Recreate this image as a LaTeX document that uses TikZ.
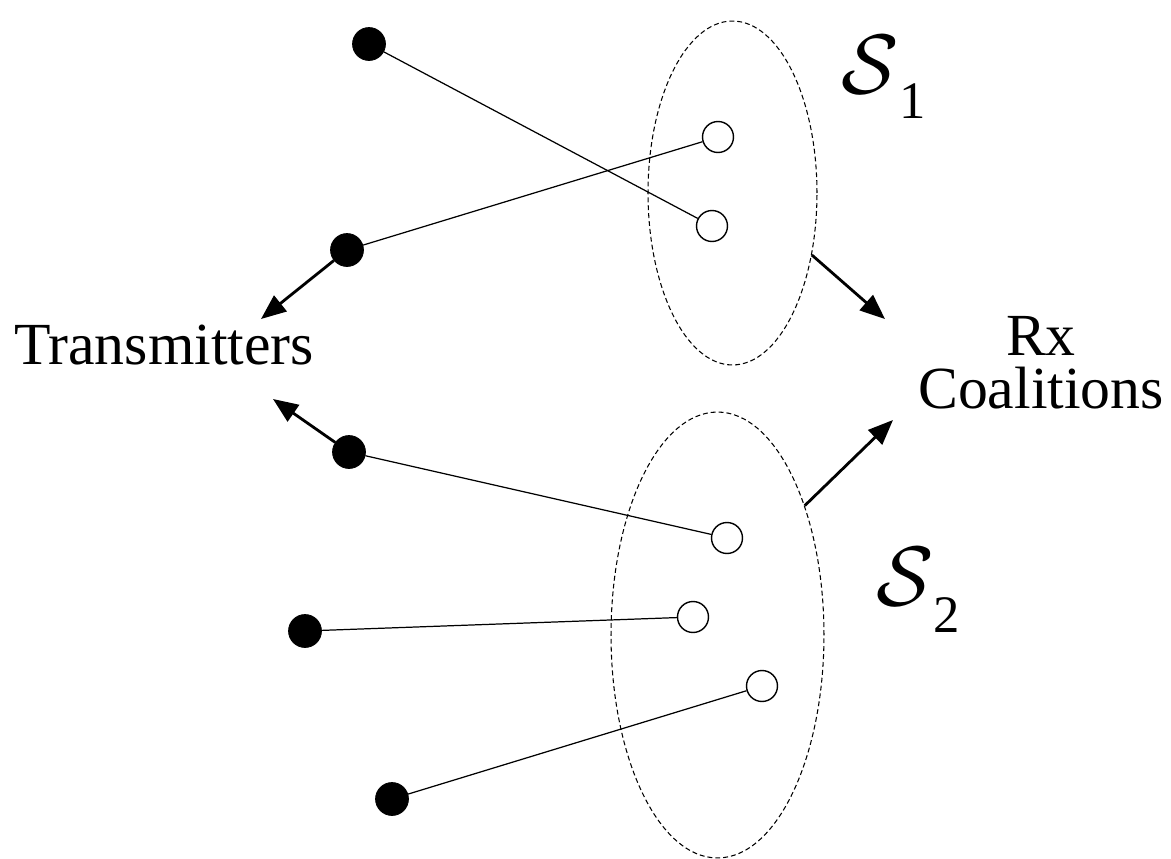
\documentclass[tikz,border=0pt]{standalone}
\usepackage{fontspec}
\setmainfont{Liberation Serif}
\usetikzlibrary{shapes.geometric,arrows.meta}
\begin{document}
\begin{tikzpicture}[x=0.02cm,y=-0.02cm,
  tx/.style={circle,fill=black,draw=black,minimum size=0.66cm,inner sep=0},
  rxnode/.style={circle,fill=white,draw=black,line width=0.8pt,minimum size=0.62cm,inner sep=0},
  link/.style={line width=0.7pt},
  coal/.style={ellipse,draw,dash pattern=on 2.8pt off 1.7pt,line width=0.6pt,inner sep=0},
  pointer/.style={line width=1.6pt,-{Triangle[length=0.5cm,width=0.4cm]}},
  lbl/.style={font=\fontsize{34}{30}\selectfont,inner sep=0},
  setname/.style={anchor=base west,inner sep=0},
  setsub/.style={anchor=base west,inner sep=0,font=\fontsize{30}{30}\selectfont}]
\useasboundingbox (0,0) rectangle (1171,859);

% coalitions of receivers
\node[coal,minimum width=3.38cm,minimum height=6.88cm] (e1) at (732.5,193) {};
\node[coal,minimum width=4.26cm,minimum height=8.92cm] (e2) at (717.5,635) {};

% transmitters
\node[tx] (t1) at (369,44) {};
\node[tx] (t2) at (347,250) {};
\node[tx] (t3) at (349,452) {};
\node[tx] (t4) at (305,631) {};
\node[tx] (t5) at (392,799) {};

% receivers
\node[rxnode] (r1) at (718,137) {};
\node[rxnode] (r2) at (712,226) {};
\node[rxnode] (r3) at (727,538) {};
\node[rxnode] (r4) at (693,617) {};
\node[rxnode] (r5) at (762,686) {};

% links
\draw[link] (t1) -- (r2);
\draw[link] (t2) -- (r1);
\draw[link] (t3) -- (r3);
\draw[link] (t4) -- (r4);
\draw[link] (t5) -- (r5);

% labels
\node[lbl,anchor=base] (tl) at (164,364) {Transmitters};
\node[lbl,align=center,anchor=north] (rl) at (1041,316) {Rx\\Coalitions};

\node[setname] (s1) at (841,93) {\scalebox{4.8}{$\mathcal{S}$}};
\node[setsub] (n1) at (899,118) {1};
\node[setname] (s2) at (876,605) {\scalebox{4.8}{$\mathcal{S}$}};
\node[setsub] (n2) at (933,632) {2};

% pointers to the labels
\coordinate (p1) at (261,319);
\coordinate (p2) at (273,399);
\coordinate (p3) at (885,319);
\coordinate (p4) at (893,420);
\draw[pointer] (t2) -- (p1);
\draw[pointer] (t3) -- (p2);
\draw[pointer] (e1.-38) -- (p3);
\draw[pointer] (e2.56) -- (p4);
\end{tikzpicture}
\end{document}
